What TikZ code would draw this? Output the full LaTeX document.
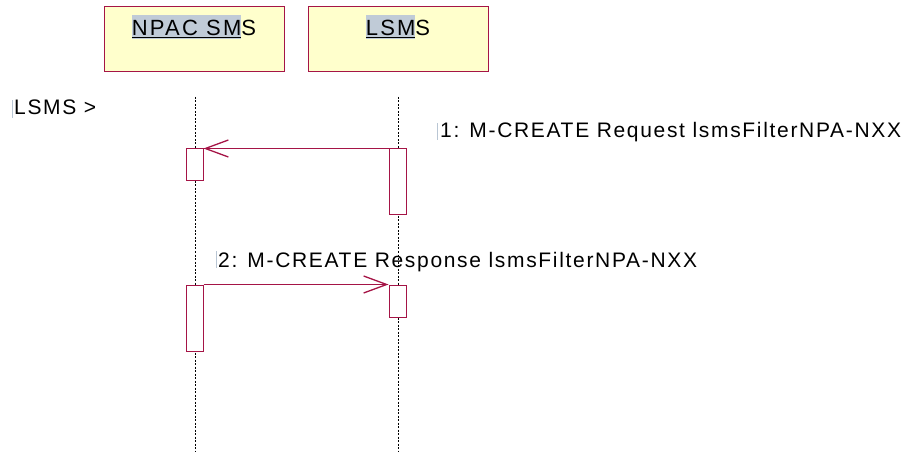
\documentclass[tikz,border=0pt]{standalone}
\usepackage{fontspec}
\setmainfont{Liberation Sans}
\newfontfamily\lsp[LetterSpace=8]{Liberation Sans}
\newfontfamily\lsph[LetterSpace=10]{Liberation Sans}
\usetikzlibrary{arrows.meta}
\definecolor{crim}{RGB}{165,20,70}
\definecolor{boxfill}{RGB}{255,255,204}
\definecolor{hlgray}{RGB}{192,203,215}
\definecolor{caretc}{RGB}{185,198,212}
\newcommand{\hlbox}[1]{{\setlength{\fboxsep}{0pt}\colorbox{hlgray}{\rule[-3.3pt]{0pt}{24.3pt}\underline{#1}}}}
\begin{document}
\begin{tikzpicture}[x=1pt,y=-1pt,
  objbox/.style={draw=crim,fill=boxfill,line width=1pt,minimum width=180pt,minimum height=65pt,inner sep=0pt},
  actbox/.style={draw=crim,fill=white,line width=1pt,minimum width=17pt,inner sep=0pt},
  lifeline/.style={black,line width=0.6pt,dash pattern=on 2pt off 1.5pt},
  msg/.style={crim,line width=1.2pt,-{Straight Barb[length=23pt,width=17pt,line width=1.3pt]}},
  hdr/.style={anchor=base,inner sep=0pt,font=\lsph\fontsize{22}{26}\selectfont},
  lbl/.style={anchor=base west,inner sep=0pt,font=\lsp\fontsize{21}{25}\selectfont},
  caretbar/.style={caretc,line width=1.5pt}]
\useasboundingbox (0,0) rectangle (913,457);
% object boxes
\node[objbox] (npac) at (194,39.5) {};
\node[objbox] (lsms) at (398,39.5) {};
\node[hdr] (npact) at (194,36) {\hlbox{NPAC SM}S};
\node[hdr] (lsmst) at (398,36) {\hlbox{LSM}S};
% lifelines
\coordinate (l1t) at (195,97);
\coordinate (l1b) at (195,452);
\coordinate (l2t) at (398,97);
\coordinate (l2b) at (398,452);
\draw[lifeline] (l1t) -- (l1b);
\draw[lifeline] (l2t) -- (l2b);
% activations
\node[actbox,minimum height=32pt] (a1l) at (194.5,165) {};
\node[actbox,minimum height=66pt] (a1r) at (397.5,182) {};
\node[actbox,minimum height=66pt] (a2l) at (194.5,318) {};
\node[actbox,minimum height=32pt] (a2r) at (397.5,301) {};
% messages
\draw[msg] (a1r.north west) -- (a1l.north east);
\draw[msg] (a2l.north east) -- (a2r.north west);
% labels
\node[lbl] (ctx) at (14,115) {LSMS >};
\node[lbl] (m1) at (440,138) {1: M-CREATE Request lsmsFilterNPA-NXX};
\node[lbl] (m2) at (218,267) {2: M-CREATE Response lsmsFilterNPA-NXX};
% carets
\draw[caretbar] ([xshift=-1.5pt,yshift=-3pt]ctx.base west) -- ++(0,-18);
\draw[caretbar] ([xshift=-2.5pt,yshift=-2pt]m1.base west) -- ++(0,-17);
\draw[caretbar] ([xshift=-1.5pt,yshift=-1pt]m2.base west) -- ++(0,-17);
\end{tikzpicture}
\end{document}
